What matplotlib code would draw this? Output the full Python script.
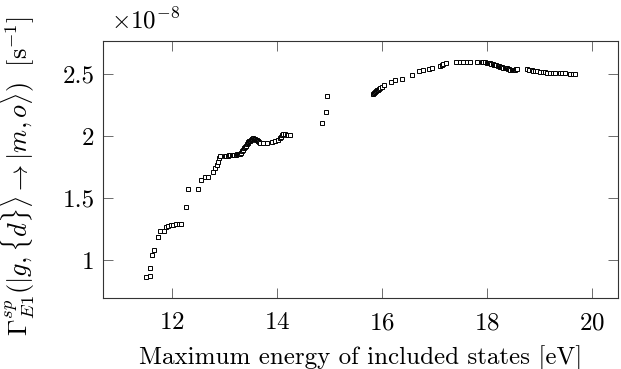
import matplotlib
matplotlib.use("Agg")
import matplotlib.pyplot as plt
from matplotlib.ticker import FuncFormatter

plt.rcParams['font.family'] = 'serif'
plt.rcParams['font.serif'] = ['cmr10', 'DejaVu Serif']
plt.rcParams['mathtext.fontset'] = 'cm'
plt.rcParams['axes.formatter.use_mathtext'] = True

# maximum energy of included states [eV]
energia = [11.505, 11.581, 11.587, 11.619, 11.651, 11.728, 11.739, 11.771, 11.848, 11.886,
           11.930, 11.975, 12.025, 12.076, 12.128, 12.177, 12.272, 12.310, 12.501, 12.552,
           12.634, 12.680, 12.787, 12.819, 12.851, 12.882, 12.901, 12.905,
           13.010, 13.035, 13.060, 13.085, 13.110, 13.135, 13.160, 13.185, 13.210, 13.235,
           13.260, 13.280, 13.300, 13.320, 13.340, 13.358, 13.375, 13.390, 13.405, 13.423,
           13.440, 13.455, 13.470, 13.486, 13.500, 13.515, 13.530, 13.549, 13.565, 13.580,
           13.597, 13.613, 13.630, 13.645, 13.660, 13.676, 13.739, 13.804, 13.899, 13.962,
           14.025, 14.050, 14.070, 14.090, 14.120, 14.152, 14.185, 14.215, 14.248,
           14.863, 14.933, 14.947,
           15.823, 15.850, 15.872, 15.890, 15.910, 15.930, 15.949, 15.970, 15.994, 16.038,
           16.177, 16.253, 16.375, 16.566, 16.705, 16.787, 16.895, 16.952, 17.105, 17.135,
           17.168, 17.219,
           17.410, 17.486, 17.549, 17.613, 17.676, 17.804, 17.899, 17.930, 17.962, 17.990,
           18.010, 18.035, 18.057, 18.080, 18.105, 18.130, 18.152, 18.175, 18.200, 18.225,
           18.248, 18.270, 18.290, 18.310, 18.335, 18.355, 18.375, 18.400, 18.420, 18.445,
           18.471, 18.490, 18.510, 18.533, 18.555, 18.577,
           18.756, 18.800, 18.851, 18.880, 18.914, 18.960, 19.010, 19.060, 19.105, 19.150,
           19.200, 19.250, 19.295, 19.390, 19.430, 19.486, 19.581, 19.630, 19.676]

# decay rate, units of 1e-8 s^-1
tasa = [0.860, 0.873, 0.933, 1.040, 1.078, 1.188, 1.188, 1.236, 1.236, 1.269,
        1.277, 1.282, 1.285, 1.288, 1.288, 1.288, 1.425, 1.570, 1.573, 1.648,
        1.667, 1.667, 1.707, 1.740, 1.769, 1.793, 1.820, 1.838,
        1.840, 1.841, 1.842, 1.843, 1.845, 1.846, 1.848, 1.849, 1.850, 1.852,
        1.853, 1.856, 1.858, 1.866, 1.876, 1.887, 1.900, 1.913, 1.923, 1.933,
        1.944, 1.952, 1.957, 1.960, 1.967, 1.974, 1.978, 1.981, 1.979, 1.975,
        1.971, 1.968, 1.962, 1.956, 1.950, 1.946, 1.941, 1.946, 1.954, 1.960,
        1.968, 1.980, 1.995, 2.008, 2.013, 2.016, 2.012, 2.008, 2.008,
        2.107, 2.196, 2.323,
        2.336, 2.347, 2.357, 2.364, 2.371, 2.374, 2.377, 2.385, 2.393, 2.411,
        2.435, 2.449, 2.457, 2.492, 2.524, 2.532, 2.540, 2.546, 2.562, 2.570,
        2.578, 2.586,
        2.597, 2.594, 2.594, 2.597, 2.597, 2.597, 2.597, 2.596, 2.594, 2.592,
        2.590, 2.588, 2.586, 2.582, 2.578, 2.576, 2.573, 2.569, 2.565, 2.562,
        2.559, 2.556, 2.553, 2.550, 2.548, 2.547, 2.546, 2.543, 2.539, 2.535,
        2.532, 2.533, 2.534, 2.535, 2.538, 2.540,
        2.540, 2.536, 2.532, 2.528, 2.524, 2.521, 2.519, 2.516, 2.514, 2.512,
        2.510, 2.509, 2.508, 2.506, 2.506, 2.506, 2.500, 2.500, 2.500]

fs = 18

fig = plt.figure(figsize=(6.21, 3.69), dpi=100)
ax = fig.add_axes([0.1659, 0.1924, 0.8293, 0.6965])

ax.plot(energia, tasa, linestyle='none', marker='s', markersize=3.2,
        markerfacecolor='white', markeredgecolor='black', markeredgewidth=0.7)

ax.set_xlim(10.686, 20.495)
ax.set_ylim(0.694, 2.766)
ax.set_xticks([12, 14, 16, 18, 20])
ax.set_yticks([1, 1.5, 2, 2.5])
ax.yaxis.set_major_formatter(FuncFormatter(lambda v, p: '%g' % v))

ax.tick_params(direction='in', length=7, width=0.6, color='#555555',
               top=True, right=True, labelsize=fs)
ax.tick_params(axis='x', pad=10)
ax.tick_params(axis='y', pad=6)
for s in ax.spines.values():
    s.set_linewidth(0.8)
    s.set_color('#333333')

ax.set_xlabel('Maximum energy of included states [eV]', fontsize=fs, labelpad=8)
ax.text(0.015, 1.03, r'$\times10^{-8}$', transform=ax.transAxes, fontsize=fs,
        ha='left', va='bottom')

# y label as a free figure text, centred at x = 18 px, y = 174 px
ylab = fig.text(18 / 621, 1 - 176 / 369,
                r'$\Gamma^{sp}_{E1}(|g,\{d\}\rangle \rightarrow |m,o\rangle)\ \ [\mathrm{s}^{-1}]$',
                rotation=90, ha='center', va='center', fontsize=14)

# fit its length to about 320 px, as in the reference
renderer = fig.canvas.get_renderer()
for _ in range(3):
    h = ylab.get_window_extent(renderer).height
    ylab.set_fontsize(ylab.get_fontsize() * 320.0 / h)

fig.savefig('out.png', dpi=100)
